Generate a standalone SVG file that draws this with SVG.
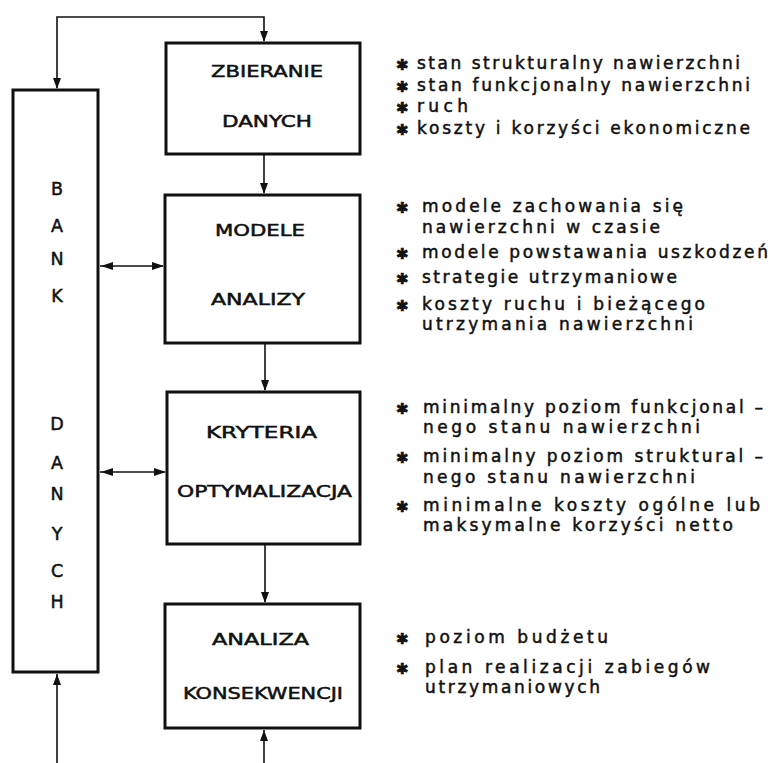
<svg xmlns="http://www.w3.org/2000/svg" width="777" height="763" viewBox="0 0 777 763">
<style>
.box{fill:#fff;stroke:#111;stroke-width:3}
.ln{fill:none;stroke:#111;stroke-width:1.6}
.ah{fill:#111;stroke:none}
.bt{font-family:"DejaVu Sans",sans-serif;font-size:15.5px;fill:#111;stroke:#111;stroke-width:0.5}
.bk{font-family:"DejaVu Sans",sans-serif;font-size:17.5px;fill:#111;stroke:#111;stroke-width:0.5;text-anchor:middle}
.rt{font-family:"DejaVu Sans",sans-serif;font-size:17px;fill:#111;stroke:#111;stroke-width:0.5}
.bu{font-family:"DejaVu Sans",sans-serif;font-size:15px;fill:#111;stroke:#111;stroke-width:0.6}
</style>
<rect width="777" height="763" fill="#fff"/>
<g id="bank">
<rect class="box" x="13" y="90" width="85" height="582"/>
<text class="bk" x="57" y="195">B</text>
<text class="bk" x="57" y="232">A</text>
<text class="bk" x="57" y="265">N</text>
<text class="bk" x="57" y="302">K</text>
<text class="bk" x="57" y="430">D</text>
<text class="bk" x="57" y="469">A</text>
<text class="bk" x="57" y="500">N</text>
<text class="bk" x="57" y="540">Y</text>
<text class="bk" x="57" y="577">C</text>
<text class="bk" x="57" y="608">H</text>
</g>
<g id="zbieranie">
<rect class="box" x="166" y="43" width="194" height="111"/>
<text class="bt" x="211" y="77" textLength="112" lengthAdjust="spacingAndGlyphs">ZBIERANIE</text>
<text class="bt" x="222" y="127" textLength="90" lengthAdjust="spacingAndGlyphs">DANYCH</text>
</g>
<g id="modele">
<rect class="box" x="165" y="195" width="195" height="148"/>
<text class="bt" x="215" y="236" textLength="90" lengthAdjust="spacingAndGlyphs">MODELE</text>
<text class="bt" x="211" y="305" textLength="94" lengthAdjust="spacingAndGlyphs">ANALIZY</text>
</g>
<g id="kryteria">
<rect class="box" x="167" y="392" width="193" height="152"/>
<text class="bt" x="206" y="438" textLength="111" lengthAdjust="spacingAndGlyphs">KRYTERIA</text>
<text class="bt" x="177" y="497" textLength="175" lengthAdjust="spacingAndGlyphs">OPTYMALIZACJA</text>
</g>
<g id="analiza">
<rect class="box" x="165" y="604" width="195" height="124"/>
<text class="bt" x="212" y="645" textLength="97" lengthAdjust="spacingAndGlyphs">ANALIZA</text>
<text class="bt" x="183" y="699" textLength="160" lengthAdjust="spacingAndGlyphs">KONSEKWENCJI</text>
</g>
<g id="connectors">
<path class="ln" d="M57,88 V17 H264 V41"/>
<polygon class="ah" points="53,78 61,78 57,89"/>
<polygon class="ah" points="260,31 268,31 264,42"/>
<path class="ln" d="M264,155 V193"/>
<polygon class="ah" points="260,183 268,183 264,194"/>
<path class="ln" d="M265,344 V390"/>
<polygon class="ah" points="261,380 269,380 265,391"/>
<path class="ln" d="M265,545 V602"/>
<polygon class="ah" points="261,592 269,592 265,603"/>
<path class="ln" d="M100,266 H163"/>
<polygon class="ah" points="101,266 113,262 113,270"/>
<polygon class="ah" points="164,266 152,262 152,270"/>
<path class="ln" d="M100,472 H165"/>
<polygon class="ah" points="101,472 113,468 113,476"/>
<polygon class="ah" points="166,472 154,468 154,476"/>
<path class="ln" d="M57,763 V674"/>
<polygon class="ah" points="53,685 61,685 57,674"/>
<path class="ln" d="M264,763 V730"/>
<polygon class="ah" points="260,741 268,741 264,730"/>
</g>
<g id="notes1">
<text class="bu" x="396" y="70">✱</text>
<text class="rt" x="417" y="69" textLength="323" lengthAdjust="spacing">stan  strukturalny nawierzchni</text>
<text class="bu" x="396" y="92">✱</text>
<text class="rt" x="417" y="91" textLength="333" lengthAdjust="spacing">stan  funkcjonalny nawierzchni</text>
<text class="bu" x="396" y="113">✱</text>
<text class="rt" x="417" y="112" textLength="51" lengthAdjust="spacing">ruch</text>
<text class="bu" x="396" y="135">✱</text>
<text class="rt" x="417" y="134" textLength="333" lengthAdjust="spacing">koszty i korzyści ekonomiczne</text>
</g>
<g id="notes2">
<text class="bu" x="396" y="213">✱</text>
<text class="rt" x="422" y="212" textLength="261" lengthAdjust="spacing">modele  zachowania się</text>
<text class="rt" x="422" y="233" textLength="238" lengthAdjust="spacing">nawierzchni  w  czasie</text>
<text class="bu" x="396" y="259">✱</text>
<text class="rt" x="422" y="258" textLength="346" lengthAdjust="spacing">modele  powstawania uszkodzeń</text>
<text class="bu" x="396" y="284">✱</text>
<text class="rt" x="422" y="283" textLength="255" lengthAdjust="spacing">strategie  utrzymaniowe</text>
<text class="bu" x="396" y="311">✱</text>
<text class="rt" x="422" y="310" textLength="283" lengthAdjust="spacing">koszty  ruchu i bieżącego</text>
<text class="rt" x="422" y="330" textLength="271" lengthAdjust="spacing">utrzymania  nawierzchni</text>
</g>
<g id="notes3">
<text class="bu" x="396" y="414">✱</text>
<text class="rt" x="423" y="413" textLength="340" lengthAdjust="spacing">minimalny  poziom  funkcjonal –</text>
<text class="rt" x="423" y="433" textLength="277" lengthAdjust="spacing">nego  stanu  nawierzchni</text>
<text class="bu" x="396" y="463">✱</text>
<text class="rt" x="423" y="462" textLength="340" lengthAdjust="spacing">minimalny  poziom  struktural –</text>
<text class="rt" x="423" y="483" textLength="272" lengthAdjust="spacing">nego  stanu  nawierzchni</text>
<text class="bu" x="396" y="512">✱</text>
<text class="rt" x="423" y="511" textLength="337" lengthAdjust="spacing">minimalne koszty ogólne lub</text>
<text class="rt" x="423" y="531" textLength="310" lengthAdjust="spacing">maksymalne  korzyści  netto</text>
</g>
<g id="notes4">
<text class="bu" x="396" y="644">✱</text>
<text class="rt" x="425" y="643" textLength="183" lengthAdjust="spacing">poziom  budżetu</text>
<text class="bu" x="396" y="674">✱</text>
<text class="rt" x="425" y="673" textLength="285" lengthAdjust="spacing">plan  realizacji  zabiegów</text>
<text class="rt" x="425" y="693" textLength="175" lengthAdjust="spacing">utrzymaniowych</text>
</g>
</svg>
